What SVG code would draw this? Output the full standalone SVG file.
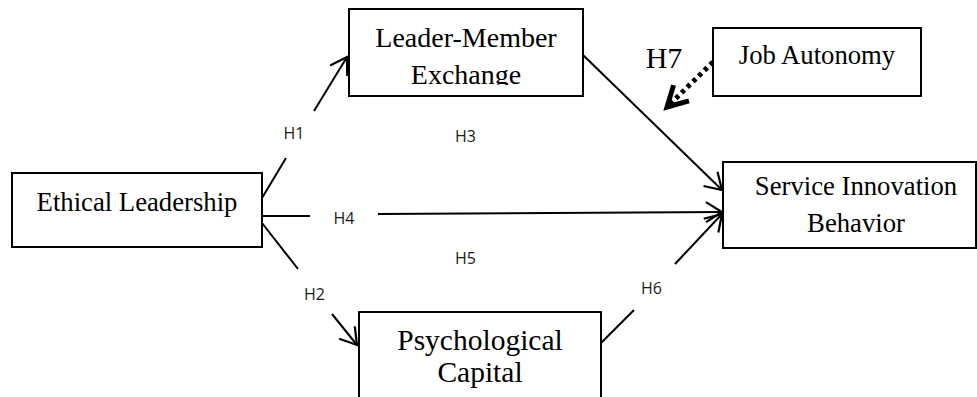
<svg xmlns="http://www.w3.org/2000/svg" width="977" height="397" viewBox="0 0 977 397">
  <style>
    .box { fill: #ffffff; stroke: #000000; stroke-width: 2; }
    .nt { font-family: "Liberation Serif", "Times New Roman", serif; fill: #000000; text-anchor: middle; }
    .lbl { font-family: "Open Sans", "Noto Sans", sans-serif; font-size: 16px; fill: #1a1a1a; text-anchor: middle; }
    .ln { stroke: #000000; stroke-width: 2; fill: none; }
    .dot { stroke: #000000; stroke-width: 5; fill: none; stroke-dasharray: 4 4; }
  </style>
  <defs>
    <marker id="arr" markerUnits="userSpaceOnUse" markerWidth="40" markerHeight="40" refX="0" refY="0" viewBox="-20 -20 40 40" orient="auto" overflow="visible">
      <path d="M-16,-10 L0,0 L-16,10" fill="none" stroke="#000000" stroke-width="2.2" stroke-linejoin="miter"/>
    </marker>
    <marker id="arrBold" markerUnits="userSpaceOnUse" markerWidth="60" markerHeight="60" refX="0" refY="0" viewBox="-30 -30 60 60" orient="auto" overflow="visible">
      <path d="M-20,-11 L0,0 L-20,11" fill="none" stroke="#000000" stroke-width="5" stroke-linejoin="miter"/>
    </marker>
    <clipPath id="lmxClip">
      <rect x="349" y="9" width="234" height="76"/>
    </clipPath>
  </defs>

  <g id="connectors">
    <!-- H1 -->
    <line class="ln" x1="262" y1="198" x2="286" y2="158"/>
    <line class="ln" x1="314" y1="111" x2="347" y2="57" marker-end="url(#arr)"/>
    <!-- H2 -->
    <line class="ln" x1="262" y1="223" x2="298" y2="269"/>
    <line class="ln" x1="332" y1="314" x2="357" y2="345" marker-end="url(#arr)"/>
    <!-- H3 -->
    <line class="ln" x1="583" y1="55" x2="722" y2="190" marker-end="url(#arr)"/>
    <!-- H4 -->
    <line class="ln" x1="262" y1="216" x2="310" y2="216"/>
    <line class="ln" x1="378" y1="214" x2="722" y2="212" marker-end="url(#arr)"/>
    <!-- H6 -->
    <line class="ln" x1="601" y1="343" x2="634" y2="310"/>
    <line class="ln" x1="675" y1="264" x2="722" y2="214" marker-end="url(#arr)"/>
    <!-- H7 moderation -->
    <line class="dot" x1="713" y1="62" x2="667" y2="107" marker-end="url(#arrBold)"/>
    <g id="labels">
      <text class="lbl" x="294" y="139">H1</text>
      <text class="lbl" x="314.5" y="300">H2</text>
      <text class="lbl" x="465.5" y="142">H3</text>
      <text class="lbl" x="344" y="224">H4</text>
      <text class="lbl" x="465.5" y="264">H5</text>
      <text class="lbl" x="651.5" y="294">H6</text>
      <text class="nt" x="664" y="68" font-size="30">H7</text>
    </g>
  </g>

  <g id="ethical-leadership">
    <rect class="box" x="12" y="173" width="250" height="74"/>
    <text class="nt" x="137" y="211" font-size="26.7">Ethical Leadership</text>
  </g>

  <g id="leader-member-exchange">
    <rect class="box" x="349" y="9" width="234" height="87"/>
    <g clip-path="url(#lmxClip)">
      <text class="nt" x="466" y="47" font-size="28">Leader-Member</text>
      <text class="nt" x="466" y="84" font-size="28">Exchange</text>
    </g>
  </g>

  <g id="job-autonomy">
    <rect class="box" x="713" y="28" width="208" height="68"/>
    <text class="nt" x="817" y="64" font-size="26.7">Job Autonomy</text>
  </g>

  <g id="service-innovation-behavior">
    <rect class="box" x="723" y="162" width="253" height="86"/>
    <text class="nt" x="856" y="195" font-size="26.7">Service Innovation</text>
    <text class="nt" x="856" y="232" font-size="26.7">Behavior</text>
  </g>

  <g id="psychological-capital">
    <rect class="box" x="359" y="312" width="242" height="100"/>
    <text class="nt" x="480" y="350" font-size="29.5">Psychological</text>
    <text class="nt" x="480" y="382" font-size="29.5">Capital</text>
  </g>
</svg>
